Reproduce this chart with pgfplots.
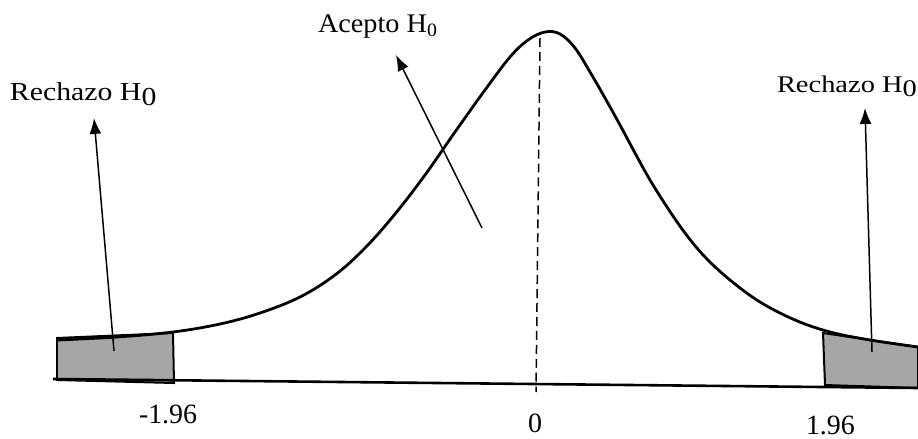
\documentclass[border=0pt]{standalone}
\usepackage{pgfplots}
\pgfplotsset{compat=1.18}
\usepackage{graphicx}
\usepackage{fontspec}
\setmainfont{Liberation Serif}
\usetikzlibrary{arrows.meta}
\tikzset{lbl/.style={inner sep=0pt, outer sep=0pt}}
\newcommand{\wide}[2][1.25]{\scalebox{#1}[1]{#2}}

\begin{document}
\begin{tikzpicture}
\begin{axis}[
    width=918bp, height=439bp, scale only axis,
    xmin=0, xmax=918, ymin=0, ymax=439, y dir=reverse,
    hide axis, clip=false,
    every axis plot/.append style={black, no markers},
]
% shaded rejection regions
\addplot[fill=black!35, line width=2pt] coordinates {(57,338) (173,333) (174,383) (57,380)} -- cycle;
\addplot[fill=black!35, line width=2pt] coordinates {(823,333) (918,347) (918,388) (825,385)} -- cycle;
% baseline
\addplot[line width=2.6pt] coordinates {(53,379) (918,388)};
% density curve
\addplot[line width=2.8pt, smooth, tension=0.6] coordinates {
    (58,340) (117,337) (173,332) (220,324) (260,313) (300,297) (335,275)
    (365,248) (395,214) (425,175) (455,132) (485,90) (510,57) (528,40)
    (545,32) (560,34) (575,48) (590,72) (605,98) (620,125) (635,153)
    (650,180) (667,207) (685,233) (705,257) (730,280) (760,302) (795,320)
    (830,332) (870,340) (918,347)};
% centre line
\addplot[line width=1.5pt, dash pattern=on 9pt off 5pt] coordinates {(540,38) (536,392)};
% arrows
\addplot[line width=1.5pt, -{Latex[length=16pt, width=12pt]}] coordinates {(114,351) (94,118)};
\addplot[line width=1.5pt, -{Latex[length=16pt, width=12pt]}] coordinates {(482,228) (396,55)};
\addplot[line width=1.5pt, -{Latex[length=16pt, width=12pt]}] coordinates {(872,352) (865,108)};
% labels
\node[lbl, anchor=base west] at (axis cs:10,101)
    {\fontsize{26}{30}\selectfont\wide[1.15]{Rechazo H\raisebox{-5bp}{0}}};
\node[lbl, anchor=base west] at (axis cs:318,33)
    {\fontsize{27}{30}\selectfont\wide[1.05]{Acepto H\textsubscript{0}}};
\node[lbl, anchor=base west] at (axis cs:777,93)
    {\fontsize{24}{28}\selectfont\wide[1.19]{Rechazo H\raisebox{-4bp}{0}}};
\node[lbl, anchor=base west] at (axis cs:139,423) {\fontsize{28}{30}\selectfont -1.96};
\node[lbl, anchor=base] at (axis cs:535,432) {\fontsize{28}{30}\selectfont 0};
\node[lbl, anchor=base west] at (axis cs:806,434) {\fontsize{28}{30}\selectfont 1.96};
\coordinate (sw) at (axis cs:0,439);
\coordinate (ne) at (axis cs:918,0);
\end{axis}
\pgfresetboundingbox
\path (sw) rectangle (ne);
\end{tikzpicture}
\end{document}
